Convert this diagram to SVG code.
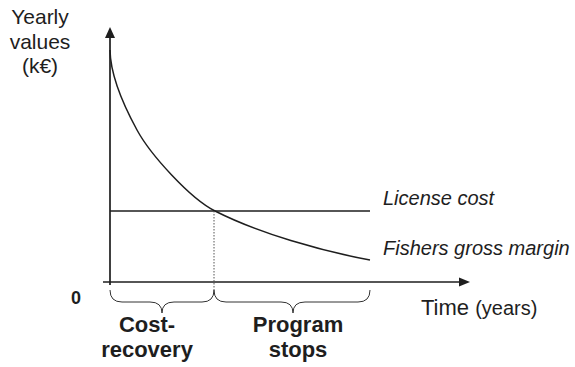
<svg xmlns="http://www.w3.org/2000/svg" width="575" height="367" viewBox="0 0 575 367">
<defs>
<style>
text{font-family:"Liberation Sans",Arial,sans-serif;fill:#1e1e1e}
.ax{stroke:#1e1e1e;stroke-width:1.7;fill:none}
.ln{stroke:#1e1e1e;stroke-width:1.5;fill:none}
.br{stroke:#333;stroke-width:1;fill:none}
.lab{font-size:20px;font-style:italic}
.bold{font-size:22px;font-weight:bold}
</style>
</defs>
<rect width="575" height="367" fill="#fff"/>
<g id="connectors">
<path class="ax" d="M110,285 V37"/>
<polygon points="110,27 105,38 115,38" fill="#1e1e1e"/>
<path class="ax" d="M103,282 H461"/>
<polygon points="470,282 459,277.5 459,286.5" fill="#1e1e1e"/>
<path class="ln" d="M110,211 H370"/>
<path class="ln" d="M110,50 C110.5,80 129.8,116.8 137,130 C150.4,154.6 190,198.4 215,211 C259.5,233.5 321,251 370,260"/>
<path d="M214,211 V290" stroke="#555" stroke-width="1" stroke-dasharray="1.5,1.5" fill="none"/>
<path class="br" d="M110,290 Q110,302 122,302 H150 Q162,302 162,313 Q162,302 174,302 H202 Q214,302 214,290"/>
<path class="br" d="M214,290 Q214,302 226,302 H281 Q293,302 293,313 Q293,302 305,302 H358 Q370,302 370,290"/>
</g>
<g id="ylabel">
<text x="40" y="24" font-size="21" text-anchor="middle">Yearly</text>
<text x="40" y="49" font-size="21" text-anchor="middle">values</text>
<text x="40" y="73" font-size="21" text-anchor="middle">(k€)</text>
</g>
<g id="license"><text class="lab" x="383" y="205">License cost</text></g>
<g id="margin"><text class="lab" x="383" y="255">Fishers gross margin</text></g>
<g id="zero"><text x="76" y="304" font-size="18" font-weight="bold" text-anchor="middle">0</text></g>
<g id="time"><text x="421" y="315" font-size="22">Time <tspan font-size="20">(years)</tspan></text></g>
<g id="cost-recovery">
<text class="bold" x="147" y="332" text-anchor="middle">Cost-</text>
<text class="bold" x="147" y="357" text-anchor="middle">recovery</text>
</g>
<g id="program-stops">
<text class="bold" x="298" y="332" text-anchor="middle">Program</text>
<text class="bold" x="298" y="357" text-anchor="middle">stops</text>
</g>
</svg>
